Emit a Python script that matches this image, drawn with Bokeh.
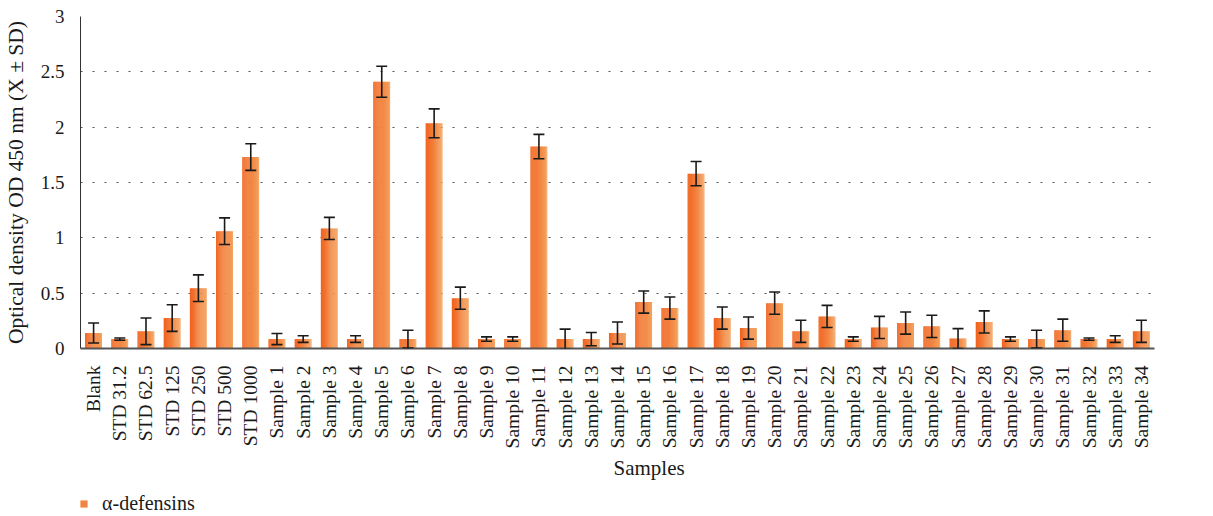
import math
from bokeh.plotting import figure
from bokeh.layouts import column
from bokeh.models import (ColumnDataSource, FactorRange, Range1d, Whisker, TeeHead, Title,
                          Legend, LegendItem, FixedTicker, CustomJSTickFormatter)
from bokeh.transform import dodge
from bokeh.embed import file_html
from bokeh.resources import INLINE

categories = ["Blank", "STD 31.2", "STD 62.5", "STD 125", "STD 250", "STD 500", "STD 1000",
              "Sample 1", "Sample 2", "Sample 3", "Sample 4", "Sample 5", "Sample 6", "Sample 7",
              "Sample 8", "Sample 9", "Sample 10", "Sample 11", "Sample 12", "Sample 13", "Sample 14",
              "Sample 15", "Sample 16", "Sample 17", "Sample 18", "Sample 19", "Sample 20", "Sample 21",
              "Sample 22", "Sample 23", "Sample 24", "Sample 25", "Sample 26", "Sample 27", "Sample 28",
              "Sample 29", "Sample 30", "Sample 31", "Sample 32", "Sample 33", "Sample 34"]

means = [0.14, 0.085, 0.155, 0.275, 0.545, 1.06, 1.73,
         0.085, 0.085, 1.085, 0.085, 2.41, 0.085, 2.035,
         0.455, 0.085, 0.085, 1.825, 0.085, 0.085, 0.14,
         0.42, 0.365, 1.58, 0.275, 0.185, 0.41, 0.155,
         0.29, 0.085, 0.19, 0.23, 0.2, 0.09, 0.24,
         0.085, 0.085, 0.165, 0.085, 0.085, 0.155]

sds = [0.09, 0.01, 0.12, 0.12, 0.12, 0.12, 0.12,
       0.05, 0.03, 0.10, 0.03, 0.14, 0.08, 0.13,
       0.10, 0.02, 0.02, 0.11, 0.09, 0.06, 0.10,
       0.10, 0.10, 0.11, 0.10, 0.10, 0.10, 0.10,
       0.10, 0.02, 0.10, 0.10, 0.10, 0.09, 0.10,
       0.02, 0.08, 0.10, 0.01, 0.03, 0.10]

y_ticks = [0, 0.5, 1, 1.5, 2, 2.5, 3]
series_name = "\u03b1-defensins"
x_title = "Samples"
y_title = "Optical density OD 450 nm (X \u00b1 SD)"

FONT = "Liberation Serif"
TXT = "#1a1a1a"

src = ColumnDataSource(dict(
    cats=categories, mean=means,
    upper=[m + s for m, s in zip(means, sds)],
    lower=[m - s for m, s in zip(means, sds)],
))

p = figure(x_range=FactorRange(*categories, range_padding=0), y_range=Range1d(0, 3),
           width=1197, height=491, output_backend="svg", toolbar_location=None,
           min_border_left=69, min_border_right=43, min_border_top=16, min_border_bottom=143)
p.outline_line_color = None

# bars with a left-to-right orange gradient
W = 0.64
N = 16
c0 = (241, 100, 32)
c1 = (243, 160, 92)
for i in range(N):
    t = i / (N - 1)
    col = "#%02x%02x%02x" % tuple(int(round(a + (b - a) * t)) for a, b in zip(c0, c1))
    off = -W / 2 + (i + 0.5) * W / N
    p.vbar(x=dodge("cats", off, range=p.x_range), top="mean", bottom=0,
           width=W / N * (1.3 if i < N - 1 else 1.0), source=src,
           fill_color=col, line_color=None)

wh = Whisker(base="cats", upper="upper", lower="lower", source=src, level="annotation",
             line_color=TXT, line_width=1.6,
             upper_head=TeeHead(size=11, line_color=TXT, line_width=1.6),
             lower_head=TeeHead(size=11, line_color=TXT, line_width=1.6))
p.add_layout(wh)

# axes
p.yaxis.ticker = FixedTicker(ticks=y_ticks)
p.yaxis.formatter = CustomJSTickFormatter(code="return String(tick);")
p.yaxis.axis_label = y_title
p.yaxis.axis_line_color = "#333333"
p.yaxis.major_tick_line_color = None
p.yaxis.minor_tick_line_color = None
p.yaxis.major_label_text_font = FONT
p.yaxis.major_label_text_font_size = "19px"
p.yaxis.major_label_text_color = TXT
p.yaxis.axis_label_text_font = FONT
p.yaxis.axis_label_text_font_size = "21.5px"
p.yaxis.axis_label_text_font_style = "normal"
p.yaxis.axis_label_text_color = TXT
p.yaxis.major_label_standoff = 10
p.yaxis.axis_label_standoff = 10

p.xaxis.axis_line_color = "#555555"
p.xaxis.axis_line_width = 2
p.xaxis.major_tick_line_color = None
p.xaxis.minor_tick_line_color = None
p.xaxis.major_label_orientation = math.pi / 2
p.xaxis.major_label_text_font = FONT
p.xaxis.major_label_text_font_size = "19.5px"
p.xaxis.major_label_text_color = TXT
p.xaxis.major_label_standoff = 11

xt = Title(text=x_title, align="left", offset=533, standoff=5,
           text_font=FONT, text_font_size="21px", text_font_style="normal", text_color=TXT)
p.add_layout(xt, "below")

p.xgrid.grid_line_color = None
p.ygrid.grid_line_color = "#555555"
p.ygrid.grid_line_dash = "2 10"
p.ygrid.grid_line_width = 1

# legend strip below the chart
pl = figure(width=1197, height=24, output_backend="svg", toolbar_location=None,
            x_range=Range1d(0, 1), y_range=Range1d(0, 1),
            min_border_left=0, min_border_right=0, min_border_top=0, min_border_bottom=0)
pl.axis.visible = False
pl.grid.grid_line_color = None
pl.outline_line_color = None
proxy = ColumnDataSource(dict(x=[0.5], top=[0.0]))
lr = pl.vbar(x="x", top="top", bottom=0, width=0.0, source=proxy,
             fill_color="#f2843f", line_color=None)
leg = Legend(items=[LegendItem(label=series_name, renderers=[lr])],
             location=(-1, 0), orientation="horizontal",
             margin=0, padding=0, glyph_width=9, glyph_height=9, label_height=22,
             label_standoff=14, label_text_font=FONT, label_text_font_size="20px",
             label_text_color=TXT, border_line_color=None, background_fill_alpha=0)
pl.add_layout(leg)

layout = column(p, pl, spacing=0)

open("out.html", "w").write(file_html(layout, INLINE))
